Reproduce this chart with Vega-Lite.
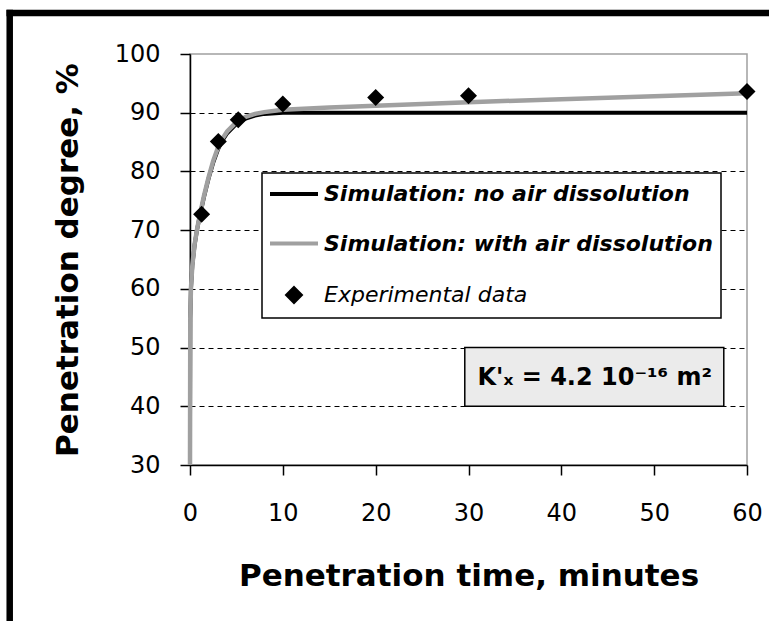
{
  "$schema": "https://vega.github.io/schema/vega-lite/v6.json",
  "width": 557,
  "height": 411,
  "autosize": {"type": "none"},
  "padding": {"left": 190, "top": 54, "right": 22, "bottom": 156},
  "background": "white",
  "config": {
    "font": "DejaVu Sans",
    "view": {"stroke": "#a0a0a0", "strokeWidth": 1.5, "fill": "white"},
    "legend": {"strokeWidth": 1.5},
    "axis": {
      "domainColor": "black",
      "domainWidth": 1.5,
      "tickColor": "black",
      "tickWidth": 1.5,
      "tickSize": 10,
      "labelFont": "DejaVu Sans",
      "labelFontSize": 24,
      "labelColor": "black",
      "labelFlush": false,
      "labelOverlap": false,
      "titleFont": "DejaVu Sans",
      "titleFontSize": 31,
      "titleFontWeight": "bold",
      "titleColor": "black"
    }
  },
  "datasets": {
    "simulation": [
      {"series": "Simulation: no air dissolution", "t": 0, "pen": 38},
      {"series": "Simulation: no air dissolution", "t": 0.03, "pen": 55},
      {"series": "Simulation: no air dissolution", "t": 0.1, "pen": 60},
      {"series": "Simulation: no air dissolution", "t": 0.25, "pen": 64},
      {"series": "Simulation: no air dissolution", "t": 0.5, "pen": 67.5},
      {"series": "Simulation: no air dissolution", "t": 0.75, "pen": 70},
      {"series": "Simulation: no air dissolution", "t": 1, "pen": 72},
      {"series": "Simulation: no air dissolution", "t": 1.5, "pen": 75.6},
      {"series": "Simulation: no air dissolution", "t": 2, "pen": 78.8},
      {"series": "Simulation: no air dissolution", "t": 2.5, "pen": 81.5},
      {"series": "Simulation: no air dissolution", "t": 3, "pen": 83.7},
      {"series": "Simulation: no air dissolution", "t": 3.5, "pen": 85.3},
      {"series": "Simulation: no air dissolution", "t": 4, "pen": 86.5},
      {"series": "Simulation: no air dissolution", "t": 5, "pen": 88.1},
      {"series": "Simulation: no air dissolution", "t": 6, "pen": 89},
      {"series": "Simulation: no air dissolution", "t": 7, "pen": 89.5},
      {"series": "Simulation: no air dissolution", "t": 8, "pen": 89.8},
      {"series": "Simulation: no air dissolution", "t": 10, "pen": 90},
      {"series": "Simulation: no air dissolution", "t": 20, "pen": 90},
      {"series": "Simulation: no air dissolution", "t": 40, "pen": 90},
      {"series": "Simulation: no air dissolution", "t": 60, "pen": 90},
      {"series": "Simulation: with air dissolution", "t": 0, "pen": 30},
      {"series": "Simulation: with air dissolution", "t": 0.03, "pen": 55},
      {"series": "Simulation: with air dissolution", "t": 0.1, "pen": 60},
      {"series": "Simulation: with air dissolution", "t": 0.25, "pen": 64},
      {"series": "Simulation: with air dissolution", "t": 0.5, "pen": 67.6},
      {"series": "Simulation: with air dissolution", "t": 0.75, "pen": 70.1},
      {"series": "Simulation: with air dissolution", "t": 1, "pen": 72.1},
      {"series": "Simulation: with air dissolution", "t": 1.5, "pen": 75.8},
      {"series": "Simulation: with air dissolution", "t": 2, "pen": 79},
      {"series": "Simulation: with air dissolution", "t": 2.5, "pen": 81.8},
      {"series": "Simulation: with air dissolution", "t": 3, "pen": 84},
      {"series": "Simulation: with air dissolution", "t": 3.5, "pen": 85.6},
      {"series": "Simulation: with air dissolution", "t": 4, "pen": 86.8},
      {"series": "Simulation: with air dissolution", "t": 5, "pen": 88.4},
      {"series": "Simulation: with air dissolution", "t": 6, "pen": 89.3},
      {"series": "Simulation: with air dissolution", "t": 7, "pen": 89.8},
      {"series": "Simulation: with air dissolution", "t": 8, "pen": 90.1},
      {"series": "Simulation: with air dissolution", "t": 10, "pen": 90.5},
      {"series": "Simulation: with air dissolution", "t": 15, "pen": 90.9},
      {"series": "Simulation: with air dissolution", "t": 20, "pen": 91.2},
      {"series": "Simulation: with air dissolution", "t": 30, "pen": 91.8},
      {"series": "Simulation: with air dissolution", "t": 40, "pen": 92.3},
      {"series": "Simulation: with air dissolution", "t": 50, "pen": 92.8},
      {"series": "Simulation: with air dissolution", "t": 60, "pen": 93.3}
    ],
    "experiment": [
      {"series": "Experimental data", "t": 1.25, "pen": 72.7},
      {"series": "Experimental data", "t": 3.05, "pen": 85.1},
      {"series": "Experimental data", "t": 5.2, "pen": 88.8},
      {"series": "Experimental data", "t": 10, "pen": 91.5},
      {"series": "Experimental data", "t": 20, "pen": 92.6},
      {"series": "Experimental data", "t": 30, "pen": 92.9},
      {"series": "Experimental data", "t": 60, "pen": 93.6}
    ]
  },
  "layer": [
    {
      "data": {"name": "simulation"},
      "transform": [{"filter": "datum.series === 'Simulation: no air dissolution'"}],
      "mark": {"type": "line", "strokeWidth": 4},
      "encoding": {
        "x": {
          "field": "t",
          "type": "quantitative",
          "scale": {"domain": [0, 60], "nice": false, "zero": false},
          "axis": {
            "values": [0, 10, 20, 30, 40, 50, 60],
            "grid": false,
            "labelPadding": 26,
            "title": "Penetration time, minutes",
            "titleBaseline": "alphabetic",
            "titleY": 120,
            "titleX": 278.5
          }
        },
        "y": {
          "field": "pen",
          "type": "quantitative",
          "scale": {"domain": [30, 100], "nice": false, "zero": false},
          "axis": {
            "values": [30, 40, 50, 60, 70, 80, 90, 100],
            "grid": true,
            "gridColor": "black",
            "gridWidth": 1,
            "gridDash": [5, 4],
            "gridOpacity": {"condition": {"test": "datum.value === 30 || datum.value === 100", "value": 0}, "value": 1},
            "labelPadding": 20,
            "title": "Penetration degree, %",
            "titleAngle": 270,
            "titleBaseline": "alphabetic",
            "titleAlign": "center",
            "titleX": -113,
            "titleY": 205.5
          }
        },
        "color": {
          "field": "series",
          "type": "nominal",
          "scale": {
            "domain": ["Simulation: no air dissolution", "Simulation: with air dissolution", "Experimental data"],
            "range": ["black", "#a0a0a0", "black"]
          },
          "legend": {
            "title": null,
            "orient": "none",
            "direction": "vertical",
            "legendX": 72,
            "legendY": 119,
            "fillColor": "white",
            "strokeColor": "black",
            "padding": 8,
            "rowPadding": 25.5,
            "labelFont": "DejaVu Sans",
            "labelFontSize": 22,
            "labelFontStyle": "italic",
            "labelFontWeight": {"expr": "datum.value === 'Experimental data' ? 'normal' : 'bold'"},
            "labelColor": "black",
            "labelLimit": 600,
            "labelOffset": 17,
            "labelBaseline": "middle",
            "symbolSize": 484,
            "symbolOffset": 11,
            "symbolStrokeWidth": 4,
            "symbolOpacity": 1,
            "symbolType": {"expr": "datum.value === 'Experimental data' ? 'M0,-0.6L0.6,0L0,0.6L-0.6,0Z' : 'M-2.1818,0H2.1818'"}
          }
        }
      }
    },
    {
      "data": {"name": "simulation"},
      "transform": [{"filter": "datum.series === 'Simulation: with air dissolution'"}],
      "mark": {"type": "line", "strokeWidth": 4.5},
      "encoding": {
        "x": {"field": "t", "type": "quantitative"},
        "y": {"field": "pen", "type": "quantitative"},
        "color": {"field": "series", "type": "nominal"}
      }
    },
    {
      "data": {"name": "experiment"},
      "mark": {"type": "point", "shape": "diamond", "filled": true, "size": 289, "opacity": 1},
      "encoding": {
        "x": {"field": "t", "type": "quantitative"},
        "y": {"field": "pen", "type": "quantitative"},
        "color": {"field": "series", "type": "nominal"}
      }
    },
    {
      "data": {"values": [{}]},
      "mark": {"type": "rect", "fill": "#ebebeb", "stroke": "black", "strokeWidth": 1.5},
      "encoding": {
        "x": {"datum": 29.6, "type": "quantitative"},
        "x2": {"datum": 57.5},
        "y": {"datum": 50, "type": "quantitative"},
        "y2": {"datum": 40}
      }
    },
    {
      "data": {"values": [{}]},
      "mark": {
        "type": "text",
        "text": "K'ₓ = 4.2 10⁻¹⁶ m²",
        "font": "DejaVu Sans",
        "fontWeight": "bold",
        "fontSize": 24,
        "align": "center",
        "baseline": "alphabetic",
        "color": "black"
      },
      "encoding": {
        "x": {"datum": 43.6, "type": "quantitative"},
        "y": {"datum": 43.6, "type": "quantitative"}
      }
    },
    {
      "data": {"values": [{}]},
      "mark": {"type": "rule", "color": "black", "strokeWidth": 6.5, "strokeCap": "butt"},
      "encoding": {
        "x": {"datum": -19.77, "type": "quantitative"},
        "x2": {"datum": 70},
        "y": {"datum": 106.98, "type": "quantitative"}
      }
    },
    {
      "data": {"values": [{}]},
      "mark": {"type": "rule", "color": "black", "strokeWidth": 6.5, "strokeCap": "butt"},
      "encoding": {
        "x": {"datum": -19.42, "type": "quantitative"},
        "y": {"datum": 107.53, "type": "quantitative"},
        "y2": {"datum": 0}
      }
    }
  ]
}
